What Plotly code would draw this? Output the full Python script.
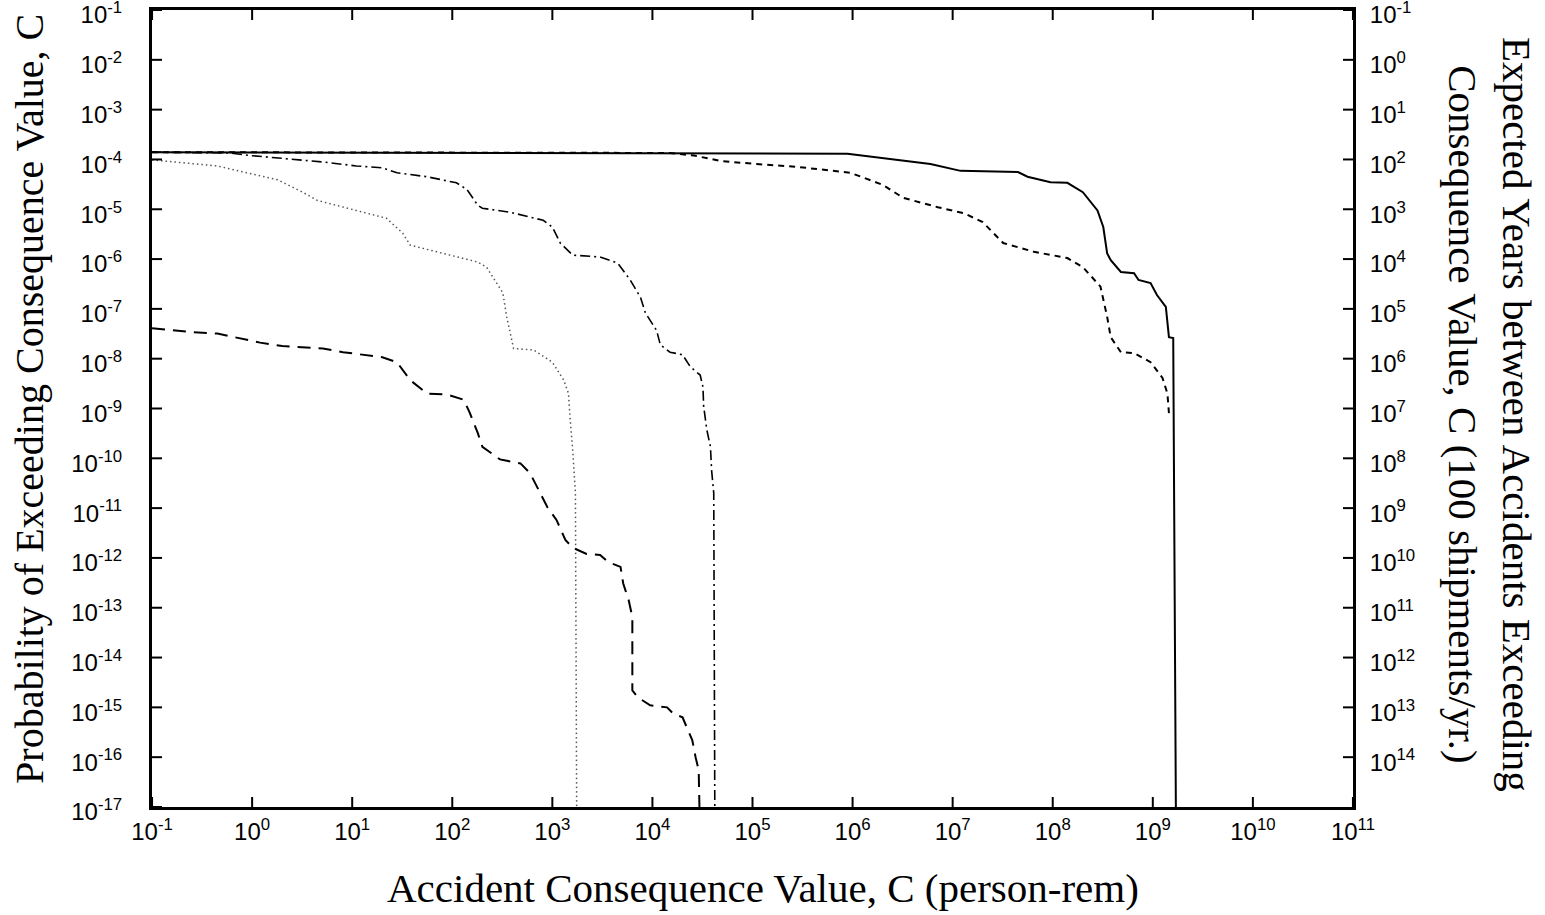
import plotly.graph_objects as go

# Complementary cumulative distributions: probability of exceeding consequence C
solid_x = [0.1, 8.9e5, 6.0e6, 1.2e7, 4.5e7, 5.6e7, 9.5e7, 1.4e8, 2.0e8, 2.8e8, 3.2e8,
           3.5e8, 3.8e8, 4.8e8, 6.5e8, 7.2e8, 9.5e8, 1.1e9, 1.35e9, 1.45e9, 1.6e9, 1.7e9]
solid_y = [1.4e-4, 1.3e-4, 8.1e-5, 5.9e-5, 5.6e-5, 4.5e-5, 3.5e-5, 3.4e-5, 2.2e-5, 9.5e-6, 4.4e-6,
           1.3e-6, 9.5e-7, 5.5e-7, 5.2e-7, 3.8e-7, 3.3e-7, 1.9e-7, 1.1e-7, 2.7e-8, 2.6e-8, 1e-17]

short_dash_x = [0.1, 1.5e4, 2.6e4, 4.8e4, 1.1e5, 2.8e5, 9.5e5, 2.0e6, 3.2e6, 7.1e6, 1.3e7,
                2.0e7, 3.2e7, 6.5e7, 1.4e8, 2.0e8, 3.0e8, 3.5e8, 3.8e8, 4.8e8, 6.5e8,
                9.5e8, 1.25e9, 1.4e9, 1.45e9]
short_dash_y = [1.4e-4, 1.35e-4, 1.2e-4, 9.3e-5, 8.1e-5, 7.1e-5, 5.4e-5, 3.1e-5, 1.7e-5, 1.1e-5, 8.3e-6,
                5.5e-6, 2.1e-6, 1.4e-6, 1.05e-6, 6.9e-7, 2.8e-7, 6.9e-8, 2.7e-8, 1.35e-8, 1.3e-8,
                8.5e-9, 4.1e-9, 2.0e-9, 8.1e-10]

dash_dot_x = [0.1, 0.6, 0.95, 2.8, 5.1, 11, 20, 28, 56, 110, 140, 180, 200, 380, 810, 1.0e3,
              1.2e3, 1.6e3, 3.0e3, 4.5e3, 6.0e3, 7.6e3, 8.5e3, 1.1e4, 1.2e4, 1.5e4, 2.0e4,
              2.4e4, 3.0e4, 3.2e4, 3.25e4, 3.5e4, 3.8e4, 3.9e4, 4.1e4, 4.2e4]
dash_dot_y = [1.4e-4, 1.35e-4, 1.2e-4, 9.8e-5, 8.9e-5, 7.4e-5, 6.8e-5, 5.4e-5, 4.5e-5, 3.4e-5,
              2.5e-5, 1.2e-5, 1.05e-5, 8.7e-6, 6.0e-6, 4.4e-6, 2.1e-6, 1.2e-6, 1.1e-6, 8.3e-7,
              3.8e-7, 1.7e-7, 8.3e-8, 3.7e-8, 1.9e-8, 1.35e-8, 1.2e-8, 6.8e-9, 4.7e-9, 2.7e-9,
              1.1e-9, 3.7e-10, 1.7e-10, 5.8e-11, 2.0e-11, 1e-17]

dotted_x = [0.1, 0.3, 0.45, 1.8, 3.2, 4.5, 11, 22, 32, 38, 95, 180, 220, 280, 320, 350, 380,
            410, 650, 1.0e3, 1.3e3, 1.45e3, 1.5e3, 1.6e3, 1.7e3, 1.75e3]
dotted_y = [9.8e-5, 7.8e-5, 7.4e-5, 3.9e-5, 2.2e-5, 1.5e-5, 9.5e-6, 6.6e-6, 3.3e-6, 1.9e-6,
            1.2e-6, 8.7e-7, 6.9e-7, 3.3e-7, 2.1e-7, 6.9e-8, 3.2e-8, 1.6e-8, 1.5e-8, 8.5e-9,
            3.7e-9, 2.0e-9, 6.8e-10, 1.4e-10, 2.0e-11, 1e-17]

long_dash_x = [0.1, 0.26, 0.45, 0.76, 1.2, 2.0, 5.1, 8.1, 20, 28, 38, 56, 89, 130, 150, 180,
               200, 300, 480, 600, 760, 890, 1.1e3, 1.35e3, 1.6e3, 2.2e3, 3.0e3, 3.6e3, 4.8e3,
               5.1e3, 5.8e3, 6.3e3, 6.3e3, 7.1e3, 9.5e3, 1.4e4, 1.6e4, 2.0e4, 2.2e4, 2.5e4,
               2.7e4, 2.9e4, 2.95e4]
long_dash_y = [4.1e-8, 3.4e-8, 3.2e-8, 2.6e-8, 2.1e-8, 1.8e-8, 1.6e-8, 1.35e-8, 1.07e-8, 8.5e-9,
               3.7e-9, 2.0e-9, 1.9e-9, 1.5e-9, 8.1e-10, 3.2e-10, 1.7e-10, 9.5e-11, 7.9e-11,
               5.0e-11, 2.0e-11, 1.05e-11, 5.8e-12, 2.3e-12, 1.6e-12, 1.2e-12, 1.15e-12, 8.3e-13,
               6.6e-13, 3.1e-13, 1.4e-13, 6.5e-14, 2.2e-15, 1.6e-15, 1.1e-15, 1.0e-15, 7.6e-16,
               6.3e-16, 4.0e-16, 2.2e-16, 1.0e-16, 5.5e-17, 1e-17]

# Axis ticks (decade exponents)
x_exponents = list(range(-1, 12))
y_exponents = list(range(-17, 0))
right_exponents = list(range(-1, 15))          # expected years, 100 shipments/yr
right_tick_exponents = [-(k + 2) for k in right_exponents]

X_RANGE = [-1.0005, 11.0005]
Y_RANGE = [-17.0005, -0.9995]

W, H = 1545, 915
MARGIN = dict(l=152, r=192, t=10, b=108)
PLOT_W = W - MARGIN["l"] - MARGIN["r"]
PLOT_H = H - MARGIN["t"] - MARGIN["b"]
TICK_LEN = 10

def power_label(e):
    return "10<sup>%d</sup>" % e

def frac(e, rng):
    return (e - rng[0]) / (rng[1] - rng[0])

fig = go.Figure()

series = [
    (dotted_x, dotted_y, dict(color="#555555", width=1.5, dash="1.5px,3px")),
    (long_dash_x, long_dash_y, dict(color="black", width=2, dash="13px,8px")),
    (dash_dot_x, dash_dot_y, dict(color="black", width=1.6, dash="10px,4px,2px,4px")),
    (short_dash_x, short_dash_y, dict(color="black", width=2, dash="6px,5px")),
    (solid_x, solid_y, dict(color="black", width=2)),
]
for xs, ys, ln in series:
    fig.add_trace(go.Scatter(x=xs, y=ys, mode="lines", line=ln,
                             showlegend=False, hoverinfo="skip"))

# carrier trace for the right-hand axis
fig.add_trace(go.Scatter(x=[0.1], y=[1e-17], yaxis="y2", mode="lines",
                         line=dict(width=0), showlegend=False, hoverinfo="skip"))

# inward tick marks on all four sides of the frame
tick_line = dict(color="black", width=2)
dx = TICK_LEN / PLOT_W
dy = TICK_LEN / PLOT_H
shapes = []
for e in x_exponents:
    fx = frac(e, X_RANGE)
    shapes.append(dict(type="line", xref="paper", yref="paper", x0=fx, x1=fx, y0=0, y1=dy, line=tick_line))
    shapes.append(dict(type="line", xref="paper", yref="paper", x0=fx, x1=fx, y0=1, y1=1 - dy, line=tick_line))
for e in y_exponents:
    fy = frac(e, Y_RANGE)
    shapes.append(dict(type="line", xref="paper", yref="paper", x0=0, x1=dx, y0=fy, y1=fy, line=tick_line))
for e in right_tick_exponents:
    fy = frac(e, Y_RANGE)
    shapes.append(dict(type="line", xref="paper", yref="paper", x0=1, x1=1 - dx, y0=fy, y1=fy, line=tick_line))

tick_font = dict(family="Liberation Sans, Arial, sans-serif", size=24, color="black")
title_font = dict(family="Liberation Serif, Times New Roman, serif", size=41, color="black")
left_title_font = dict(family="Liberation Serif, Times New Roman, serif", size=40, color="black")

common = dict(showgrid=False, zeroline=False, tickfont=tick_font, automargin=False,
              ticks="", showline=True, linewidth=3, linecolor="black",
              ticklabeloverflow="allow", tickmode="array")

fig.update_layout(
    template="none",
    width=W, height=H,
    margin=MARGIN,
    paper_bgcolor="white", plot_bgcolor="white",
    shapes=shapes,
    xaxis=dict(
        type="log", range=X_RANGE, mirror=True, ticklabelstandoff=1,
        tickvals=[10.0 ** e for e in x_exponents],
        ticktext=[power_label(e) for e in x_exponents],
        **common,
    ),
    yaxis=dict(
        type="log", range=Y_RANGE, mirror=True, ticklabelstandoff=22, ticklabelshift=5,
        tickvals=[10.0 ** e for e in y_exponents],
        ticktext=[power_label(e) for e in y_exponents],
        **common,
    ),
    yaxis2=dict(
        type="log", range=Y_RANGE, overlaying="y", side="right",
        ticklabelstandoff=9, ticklabelshift=5,
        tickvals=[10.0 ** e for e in right_tick_exponents],
        ticktext=[power_label(e) for e in right_exponents],
        **common,
    ),
    annotations=[
        dict(text="Accident Consequence Value, C (person-rem)", xref="paper", yref="paper",
             x=0.509, y=-0.102, xanchor="center", yanchor="middle", showarrow=False,
             font=title_font),
        dict(text="Probability of Exceeding Consequence Value, C", xref="paper", yref="paper",
             x=-0.1016, y=0.512, xanchor="center", yanchor="middle", showarrow=False,
             textangle=-90, font=left_title_font),
        dict(text="Expected Years between Accidents Exceeding<br>Consequence Value, C (100 shipments/yr.)",
             xref="paper", yref="paper", x=1.114, y=0.492, xanchor="center", yanchor="middle",
             showarrow=False, textangle=90, font=title_font),
    ],
)

fig.write_html("out.html")
